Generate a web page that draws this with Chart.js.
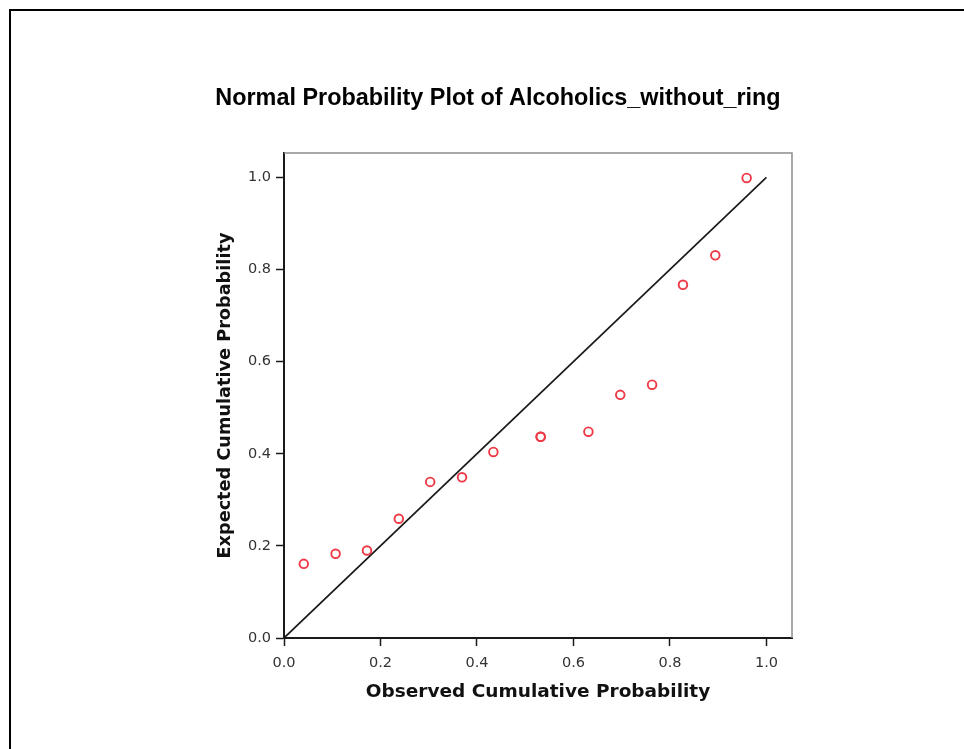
<!DOCTYPE html>
<html>
<head>
<meta charset="utf-8">
<script src="https://cdn.jsdelivr.net/npm/chart.js@4/dist/chart.umd.min.js"></script>
<style>
  html, body { margin: 0; padding: 0; background: #fff; }
  #wrap { position: relative; width: 964px; height: 749px; overflow: hidden; background: #fff; }
  #frame { position: absolute; left: 9px; top: 9px; width: 2000px; height: 2000px;
           border-left: 2px solid #000; border-top: 2px solid #000; }
  canvas { position: absolute; left: 0; top: 0; }
</style>
</head>
<body>
<div id="wrap">
  <div id="frame"></div>
  <canvas id="chart" width="964" height="749"></canvas>
</div>
<script>
// P-P plot of Alcoholics_without_ring (n = 15, two tied values near 0.53)
const observedCumProb = [0.041, 0.107, 0.172, 0.238, 0.303, 0.369, 0.434, 0.532, 0.532,
                         0.631, 0.697, 0.763, 0.827, 0.894, 0.959];
const expectedCumProb = [0.161, 0.183, 0.190, 0.259, 0.339, 0.349, 0.404, 0.437, 0.437,
                         0.448, 0.528, 0.550, 0.767, 0.831, 0.999];
// Reference diagonal (expected = observed)
const diagonalEnds = [0, 1];
const tickValues = [0.0, 0.2, 0.4, 0.6, 0.8, 1.0];
const axisMax = 1.053;

const points = observedCumProb.map((x, i) => ({ x: x, y: expectedCumProb[i] }));
const diagonal = diagonalEnds.map(v => ({ x: v, y: v }));

// Thin grey top/right edges of the plot box
const plotFrame = {
  id: 'plotFrame',
  beforeDatasetsDraw(chart) {
    const { ctx, chartArea: a } = chart;
    ctx.save();
    ctx.strokeStyle = '#8c8c8c';
    ctx.lineWidth = 1.5;
    ctx.beginPath();
    ctx.moveTo(a.left, a.top);
    ctx.lineTo(a.right, a.top);
    ctx.lineTo(a.right, a.bottom);
    ctx.stroke();
    ctx.restore();
  }
};

const tickFont = { family: 'DejaVu Sans', size: 14.5 };

function axisOptions(isX) {
  return {
    type: 'linear',
    min: 0,
    max: axisMax,
    afterBuildTicks: s => { s.ticks = tickValues.map(v => ({ value: v })); },
    afterFit: s => { if (isX) { s.height = 69; } else { s.width = 80; } },
    border: { display: true, color: '#1a1a1a', width: 2 },
    grid: { display: true, drawOnChartArea: false, drawTicks: true, tickLength: 8,
            tickColor: '#1a1a1a', tickWidth: 1.5 },
    ticks: { font: tickFont, color: '#333', padding: isX ? 9 : 5,
             callback: v => Number(v).toFixed(1) },
    title: {
      display: true,
      text: isX ? 'Observed Cumulative Probability' : 'Expected Cumulative Probability',
      font: { family: 'DejaVu Sans', size: isX ? 18.5 : 17.7, weight: 'bold' },
      color: '#111',
      padding: isX ? { top: 4, bottom: 4 } : { top: 10.5, bottom: 4 }
    }
  };
}

new Chart(document.getElementById('chart'), {
  type: 'scatter',
  data: {
    datasets: [
      {
        label: 'Diagonal',
        data: diagonal,
        showLine: true,
        borderColor: '#1a1a1a',
        borderWidth: 1.7,
        pointRadius: 0,
        fill: false,
        order: 2
      },
      {
        label: 'Alcoholics_without_ring',
        data: points,
        showLine: false,
        pointStyle: 'circle',
        pointRadius: 4.3,
        pointBorderWidth: 1.9,
        pointBorderColor: '#ee3a47',
        pointBackgroundColor: 'rgba(255,255,255,0)',
        order: 1
      }
    ]
  },
  options: {
    responsive: false,
    animation: false,
    devicePixelRatio: 1,
    layout: { padding: { left: 204, right: 172, top: 0, bottom: 42 } },
    plugins: {
      legend: { display: false },
      tooltip: { enabled: false },
      title: {
        display: true,
        text: 'Normal Probability Plot of Alcoholics_without_ring',
        font: { family: 'Liberation Sans', size: 23.4, weight: 'bold' },
        color: '#000',
        padding: { top: 85, bottom: 40 }
      }
    },
    scales: {
      x: axisOptions(true),
      y: axisOptions(false)
    }
  },
  plugins: [plotFrame]
});
</script>
</body>
</html>
